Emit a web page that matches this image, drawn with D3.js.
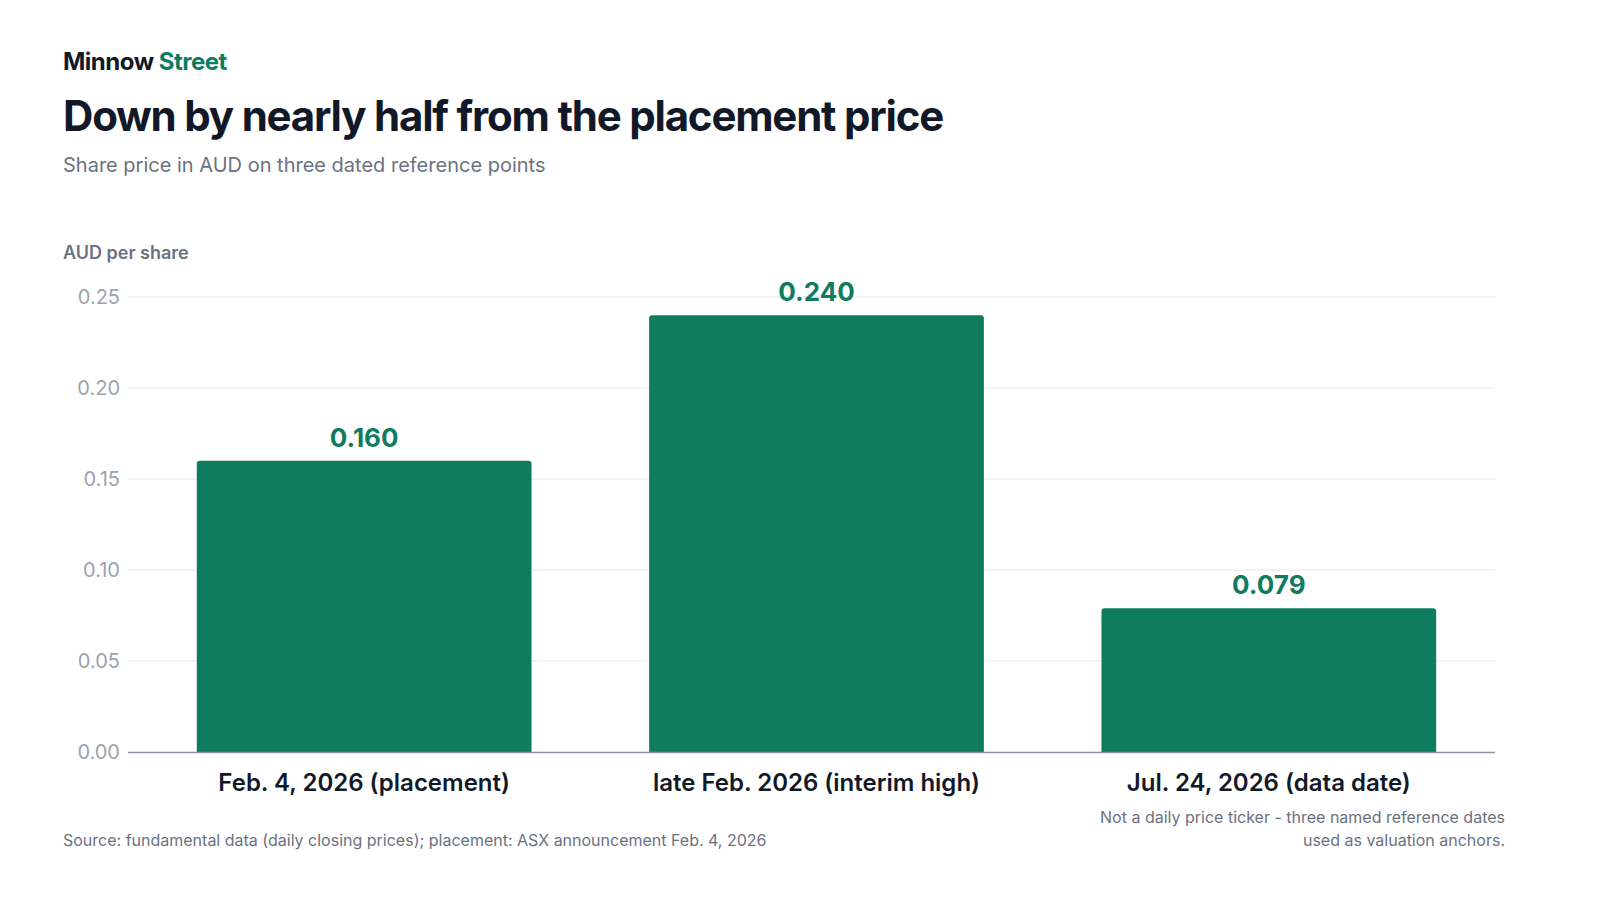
<!DOCTYPE html>
<html><head><meta charset="utf-8">
<script src="https://cdn.jsdelivr.net/npm/d3@7/dist/d3.min.js"></script>
<style>body{margin:0;background:#fff}svg{font-family:Inter,sans-serif}</style>
</head><body><svg id="c" width="1600" height="900"></svg>
<script>
const categories=["Feb. 4, 2026 (placement)","late Feb. 2026 (interim high)","Jul. 24, 2026 (data date)"];
const values=[0.160,0.240,0.079];
const valueLabels=["0.160","0.240","0.079"];
const ticks=[0,0.05,0.10,0.15,0.20,0.25];
const green="#0f7b5f";
const svg=d3.select("#c");
const x=d3.scaleBand().domain(categories).range([138,1495]).paddingInner(0.26).paddingOuter(0.13);
const y=d3.scaleLinear().domain([0,0.25]).range([752,297]);
const t=(px,py,s,o)=>{const e=svg.append("text").attr("x",px).attr("y",py).text(s);for(const k in o)e.attr(k,o[k]);return e;};
const brand=t(63,70,"",{"font-size":24,"font-weight":700,fill:"#111827","letter-spacing":-0.5});
brand.append("tspan").text("Minnow ");brand.append("tspan").attr("fill",green).text("Street");
t(63,131,"Down by nearly half from the placement price",{"font-size":42,"font-weight":700,fill:"#111827","letter-spacing":-1.2});
t(63,172,"Share price in AUD on three dated reference points",{"font-size":20,fill:"#6b7280"});
t(63,259,"AUD per share",{"font-size":18,"font-weight":600,fill:"#6b7280"});
ticks.forEach(v=>{
 if(v>0)svg.append("line").attr("x1",128).attr("x2",1495).attr("y1",y(v)).attr("y2",y(v)).attr("stroke","#e5e7eb");
 t(120,y(v)+7,d3.format(".2f")(v),{"font-size":20,fill:"#9ca3af","text-anchor":"end"});
});
categories.forEach((c,i)=>{
 const x0=x(c),w=x.bandwidth(),y0=y(values[i]),h=y(0)-y0,r=3;
 svg.append("path").attr("fill",green).attr("d",`M${x0},${y(0)}V${y0+r}Q${x0},${y0} ${x0+r},${y0}H${x0+w-r}Q${x0+w},${y0} ${x0+w},${y0+r}V${y(0)}Z`);
 t(x0+w/2,y0-14,valueLabels[i],{"font-size":26,"font-weight":700,fill:green,"text-anchor":"middle"});
 t(x0+w/2,791,c,{"font-size":24,"font-weight":600,fill:"#111827","text-anchor":"middle"});
});
svg.append("line").attr("x1",128).attr("x2",1495).attr("y1",752.5).attr("y2",752.5).attr("stroke","#8b93a3").attr("stroke-width",1.5);
t(63,846,"Source: fundamental data (daily closing prices); placement: ASX announcement Feb. 4, 2026",{"font-size":16,fill:"#6b7280"});
t(1505,823,"Not a daily price ticker - three named reference dates",{"font-size":16,fill:"#6b7280","text-anchor":"end"});
t(1505,846,"used as valuation anchors.",{"font-size":16,fill:"#6b7280","text-anchor":"end"});
</script></body></html>
